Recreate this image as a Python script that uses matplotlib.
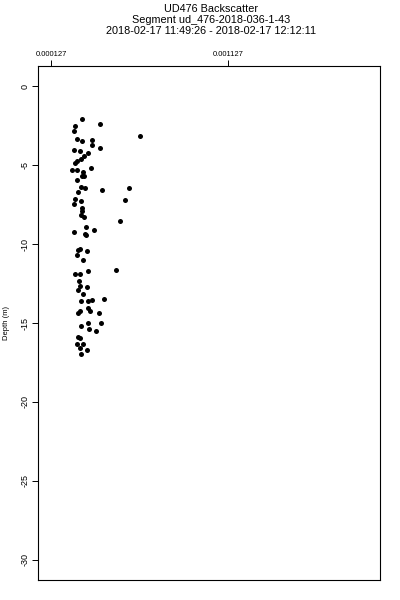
import matplotlib as mpl
mpl.use('Agg')
import matplotlib.pyplot as plt

# backscatter values and depths
backscatter = [
    302.2e-6, 404e-6, 262.6e-6, 630e-6, 257e-6, 273.9e-6, 302.2e-6, 358.7e-6,
    358.7e-6, 404e-6, 257e-6, 290.9e-6, 336e-6, 313.5e-6, 296.5e-6, 273.9e-6,
    262.6e-6, 353e-6, 245.6e-6, 273.9e-6, 307.8e-6, 302.2e-6, 313.5e-6, 273.9e-6,
    296.5e-6, 319.1e-6, 568e-6, 415e-6, 279.6e-6, 545e-6, 262.6e-6, 296.5e-6,
    257e-6, 302.2e-6, 302.2e-6, 296.5e-6, 313.5e-6, 517e-6, 324.8e-6, 370e-6,
    257e-6, 319.1e-6, 324.8e-6, 290.9e-6, 279.6e-6, 330.4e-6, 273.9e-6, 307.8e-6,
    262.6e-6, 290.9e-6, 336e-6, 494e-6, 285.3e-6, 290.9e-6, 279.6e-6, 330.4e-6,
    307.8e-6, 296.5e-6, 336e-6, 358.7e-6, 426.5e-6, 336e-6, 347.4e-6, 290.9e-6,
    279.6e-6, 398e-6, 409.5e-6, 296.5e-6, 336e-6, 341.7e-6, 381e-6, 279.6e-6,
    290.9e-6, 273.9e-6, 307.8e-6, 290.9e-6, 330.4e-6, 296.5e-6,
]
depth = [
    2.08, 2.40, 2.53, 3.16, 2.84, 3.35, 3.47, 3.41,
    3.73, 3.92, 4.04, 4.11, 4.23, 4.42, 4.61, 4.74,
    4.86, 5.18, 5.31, 5.31, 5.43, 5.69, 5.69, 5.94,
    6.38, 6.44, 6.44, 6.57, 6.70, 7.20, 7.14, 7.26,
    7.45, 7.71, 7.90, 8.15, 8.28, 8.53, 8.91, 9.10,
    9.22, 9.35, 9.41, 10.30, 10.36, 10.42, 10.68, 10.99,
    11.88, 11.88, 11.69, 11.62, 12.32, 12.63, 12.89, 12.70,
    13.14, 13.58, 13.58, 13.52, 13.46, 14.02, 14.21, 14.21,
    14.34, 14.34, 14.97, 15.16, 15.03, 15.35, 15.48, 15.86,
    15.98, 16.36, 16.36, 16.61, 16.68, 16.99,
]
x_ticks = [0.000127, 0.001127]
x_tick_labels = ['0.000127', '0.001127']
y_ticks = [0, -5, -10, -15, -20, -25, -30]

title_lines = ['UD476 Backscatter',
               'Segment ud_476-2018-036-1-43',
               '2018-02-17 11:49:26 - 2018-02-17 12:12:11']

plt.rcParams['font.family'] = ['Liberation Sans', 'DejaVu Sans']

fig = plt.figure(figsize=(4, 6), dpi=100)
ax = fig.add_axes([0.095, 0.0333, 0.855, 0.8567])

ax.plot(backscatter, [-d for d in depth], 'o', color='black',
        markersize=3.6, markeredgewidth=0)

ax.set_xlim(0.0000536, 0.001986)
ax.set_ylim(-31.27, 1.27)

ax.xaxis.tick_top()
ax.set_xticks(x_ticks)
ax.set_xticklabels(x_tick_labels, fontsize=5.5)
ax.set_yticks(y_ticks)
ax.set_yticklabels([str(v) for v in y_ticks], fontsize=6.5, rotation=90,
                   va='center')
ax.tick_params(length=4, width=0.7, pad=2, color='black')
for sp in ax.spines.values():
    sp.set_linewidth(0.8)

ax.set_ylabel('Depth (m)', fontsize=5.5, labelpad=8)

for i, line in enumerate(title_lines):
    fig.text(0.528, 1 - (9 + 11 * i) / 600, line, ha='center', va='center',
             fontsize=7.8)

plt.savefig('out.png', dpi=100)
